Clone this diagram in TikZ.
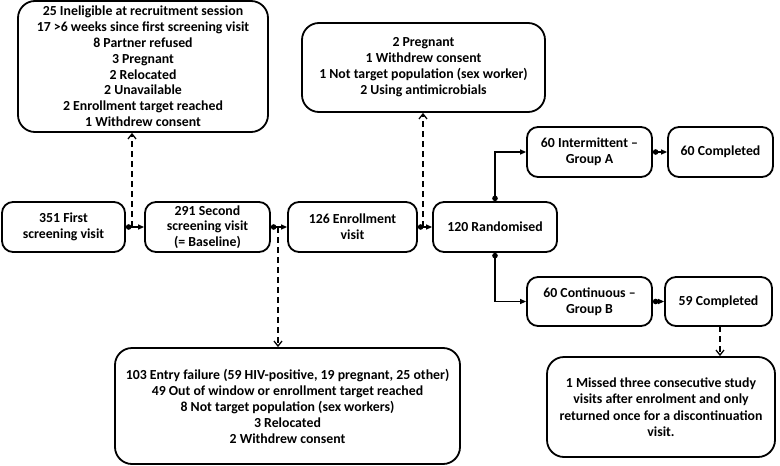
\documentclass[tikz,border=0pt]{standalone}
\usepackage{fontspec}
\setmainfont{Carlito}
\usetikzlibrary{arrows.meta}
\begin{document}
\begin{tikzpicture}[x=1pt,y=-1pt,
  box/.style={draw, line width=1.8pt, rounded corners=11pt, inner sep=0pt, align=center,
     font=\fontsize{13.8}{16}\selectfont\bfseries},
  bigbox/.style={box, rounded corners=17pt},
  flow/.style={line width=1.3pt, {Circle[length=5.5pt]}-{Triangle[length=6pt,width=5pt]}},
  elbow/.style={line width=1.3pt, {Circle[length=5.5pt]}-{Triangle[length=6pt,width=5pt]}, rounded corners=0pt},
  dashedarrow/.style={line width=1.3pt, dash pattern=on 6pt off 4pt, -{Straight Barb[length=5pt,width=8pt]}}
]
\useasboundingbox (0,0) rectangle (780,466);

\node[bigbox, minimum width=250pt, minimum height=131pt, font=\fontsize{13.8}{15.8}\selectfont\bfseries] (top) at (143,66.5)
 {25 Ineligible at recruitment session\\17 >6 weeks since first screening visit\\8 Partner refused\\3 Pregnant\\2 Relocated\\2 Unavailable\\2 Enrollment target reached\\1 Withdrew consent};

\node[box, minimum width=123pt, minimum height=50pt] (n351) at (63.5,227) {351 First\\screening visit};
\node[box, minimum width=125pt, minimum height=50pt, font=\fontsize{13.8}{15.5}\selectfont\bfseries] (n291) at (207.5,227) {291 Second\\screening visit\\(= Baseline)};
\node[box, minimum width=129pt, minimum height=50pt] (n126) at (352.5,227) {126 Enrollment\\visit};
\node[box, minimum width=124pt, minimum height=50pt] (rand) at (495,227) {120 Randomised};

\node[bigbox, minimum width=243pt, minimum height=89pt] (preg) at (423.5,67.5)
 {2 Pregnant\\1 Withdrew consent\\1 Not target population (sex worker)\\2 Using antimicrobials};

\node[box, minimum width=125pt, minimum height=50pt] (grpA) at (589.5,152) {60 Intermittent --\\Group A};
\node[box, minimum width=105pt, minimum height=50pt] (compA) at (720.5,152) {60 Completed};
\node[box, minimum width=125pt, minimum height=49pt] (grpB) at (589.5,301.5) {60 Continuous --\\Group B};
\node[box, minimum width=107pt, minimum height=49pt] (compB) at (718.5,301.5) {59 Completed};

\node[bigbox, minimum width=228pt, minimum height=100pt, font=\fontsize{13.8}{16.5}\selectfont\bfseries] (miss) at (661,407)
 {1 Missed three consecutive study\\visits after enrolment and only\\returned once for a discontinuation\\visit.};

\node[bigbox, minimum width=345pt, minimum height=116pt] (entry) at (287.5,406)
 {103 Entry failure (59 HIV-positive, 19 pregnant, 25 other)\\49 Out of window or enrollment target reached\\8 Not target population (sex workers)\\3 Relocated\\2 Withdrew consent};

% main flow
\draw[flow] (n351.east) -- (n291.west);
\draw[flow] (n291.east) -- (n126.west);
\draw[flow] (n126.east) -- (rand.west);
\draw[elbow] (rand.north) |- (grpA.west);
\draw[elbow] (rand.south) |- (grpB.west);
\draw[flow] (grpA.east) -- (compA.west);
\draw[flow] (grpB.east) -- (compB.west);

% exclusions
\coordinate (d1) at (132,227);
\coordinate (d2) at (278,227);
\coordinate (d3) at (423,227);
\coordinate (d4) at (720,326);
\draw[dashedarrow] (d1) -- (d1 |- top.south);
\draw[dashedarrow] (d2) -- (d2 |- entry.north);
\draw[dashedarrow] (d3) -- (d3 |- preg.south);
\draw[dashedarrow] (d4) -- (d4 |- miss.north);
\end{tikzpicture}
\end{document}
